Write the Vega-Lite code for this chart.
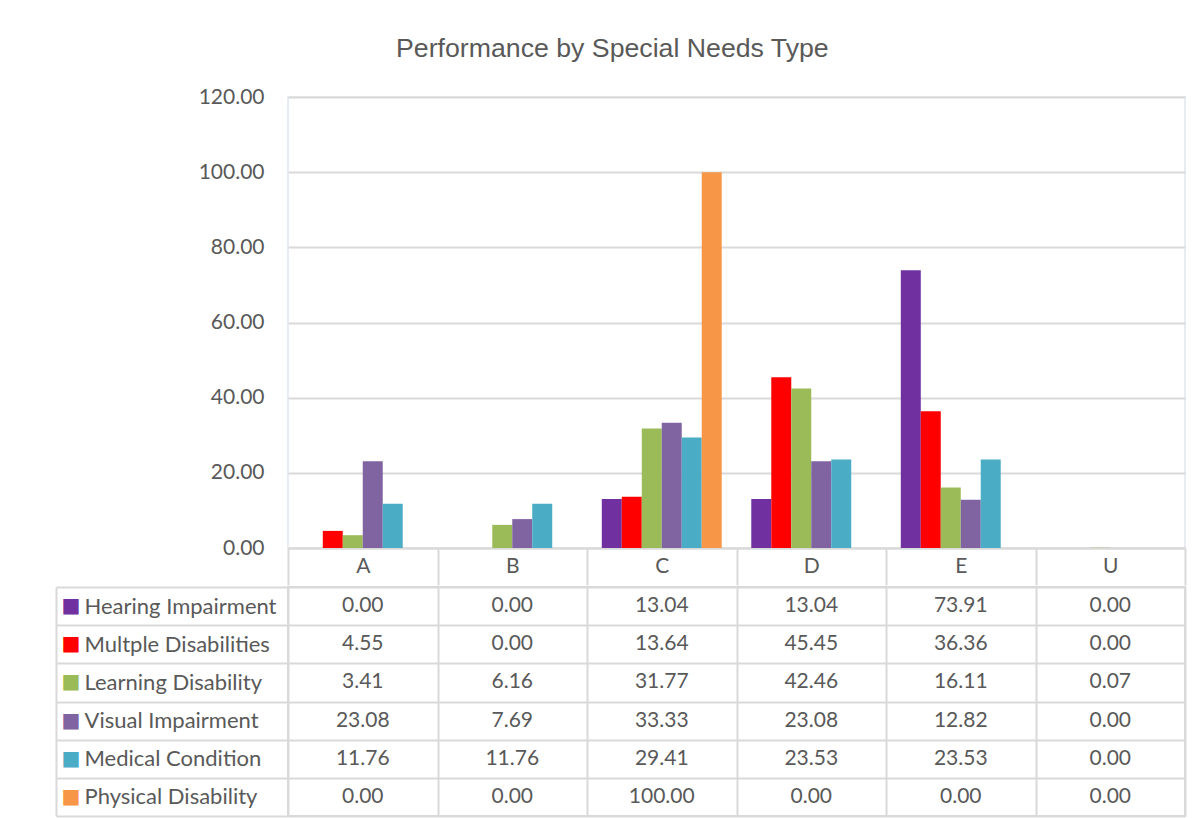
{
  "$schema": "https://vega.github.io/schema/vega-lite/v6.json",
  "background": "white",
  "padding": {"left": 54, "top": 35, "right": 10, "bottom": 0},
  "title": {"text": "Performance by Special Needs Type", "font": "Liberation Sans", "fontSize": 26.7, "fontWeight": "normal", "color": "#595959", "anchor": "middle", "dx": -8, "offset": 23},
  "spacing": -14,
  "data": {"values": [
    {"cat": "A", "series": "Hearing Impairment", "value": 0.00},
    {"cat": "B", "series": "Hearing Impairment", "value": 0.00},
    {"cat": "C", "series": "Hearing Impairment", "value": 13.04},
    {"cat": "D", "series": "Hearing Impairment", "value": 13.04},
    {"cat": "E", "series": "Hearing Impairment", "value": 73.91},
    {"cat": "U", "series": "Hearing Impairment", "value": 0.00},
    {"cat": "A", "series": "Multple Disabilities", "value": 4.55},
    {"cat": "B", "series": "Multple Disabilities", "value": 0.00},
    {"cat": "C", "series": "Multple Disabilities", "value": 13.64},
    {"cat": "D", "series": "Multple Disabilities", "value": 45.45},
    {"cat": "E", "series": "Multple Disabilities", "value": 36.36},
    {"cat": "U", "series": "Multple Disabilities", "value": 0.00},
    {"cat": "A", "series": "Learning Disability", "value": 3.41},
    {"cat": "B", "series": "Learning Disability", "value": 6.16},
    {"cat": "C", "series": "Learning Disability", "value": 31.77},
    {"cat": "D", "series": "Learning Disability", "value": 42.46},
    {"cat": "E", "series": "Learning Disability", "value": 16.11},
    {"cat": "U", "series": "Learning Disability", "value": 0.07},
    {"cat": "A", "series": "Visual Impairment", "value": 23.08},
    {"cat": "B", "series": "Visual Impairment", "value": 7.69},
    {"cat": "C", "series": "Visual Impairment", "value": 33.33},
    {"cat": "D", "series": "Visual Impairment", "value": 23.08},
    {"cat": "E", "series": "Visual Impairment", "value": 12.82},
    {"cat": "U", "series": "Visual Impairment", "value": 0.00},
    {"cat": "A", "series": "Medical Condition", "value": 11.76},
    {"cat": "B", "series": "Medical Condition", "value": 11.76},
    {"cat": "C", "series": "Medical Condition", "value": 29.41},
    {"cat": "D", "series": "Medical Condition", "value": 23.53},
    {"cat": "E", "series": "Medical Condition", "value": 23.53},
    {"cat": "U", "series": "Medical Condition", "value": 0.00},
    {"cat": "A", "series": "Physical Disability", "value": 0.00},
    {"cat": "B", "series": "Physical Disability", "value": 0.00},
    {"cat": "C", "series": "Physical Disability", "value": 100.00},
    {"cat": "D", "series": "Physical Disability", "value": 0.00},
    {"cat": "E", "series": "Physical Disability", "value": 0.00},
    {"cat": "U", "series": "Physical Disability", "value": 0.00}
  ]},
  "config": {"font": "Lato", "axis": {"labelFont": "Lato", "labelColor": "#595959", "labelFontSize": 21}},
  "vconcat": [
    {
      "width": 897,
      "height": 451,
      "view": {"stroke": "#e1e7f0", "strokeWidth": 1.5},
      "mark": {"type": "bar"},
      "encoding": {
        "x": {"field": "cat", "type": "nominal",
          "scale": {"domain": ["A", "B", "C", "D", "E", "U"], "paddingInner": 0, "paddingOuter": 0},
          "axis": {"title": null, "labelAngle": 0, "domainColor": "#d9d9d9", "domainWidth": 2, "tickColor": "#d9d9d9", "tickWidth": 2, "tickSize": 37, "tickBand": "extent", "labelBaseline": "middle", "labelPadding": -18.5}},
        "xOffset": {"field": "series", "type": "nominal",
          "scale": {"domain": ["Hearing Impairment", "Multple Disabilities", "Learning Disability", "Visual Impairment", "Medical Condition", "Physical Disability"], "paddingInner": 0, "paddingOuter": 0.74}},
        "y": {"field": "value", "type": "quantitative",
          "scale": {"domain": [0, 120]},
          "axis": {"title": null, "values": [0, 20, 40, 60, 80, 100, 120], "format": ".2f", "domain": false, "ticks": false, "tickSize": 0, "labelPadding": 24, "gridColor": "#d9d9d9", "gridWidth": 2}},
        "color": {"field": "series", "type": "nominal",
          "scale": {"domain": ["Hearing Impairment", "Multple Disabilities", "Learning Disability", "Visual Impairment", "Medical Condition", "Physical Disability"],
                    "range": ["#7030A0", "#FF0000", "#9BBB59", "#8064A2", "#4BACC6", "#F79646"]},
          "legend": null}
      }
    },
    {
      "width": 897,
      "height": 229,
      "view": {"stroke": "#d9d9d9", "strokeWidth": 2},
      "layer": [
        {
          "mark": {"type": "text", "font": "Lato", "fontSize": 21, "color": "#595959"},
          "encoding": {
            "x": {"field": "cat", "type": "nominal",
              "scale": {"domain": ["A", "B", "C", "D", "E", "U"], "paddingInner": 0, "paddingOuter": 0},
              "axis": {"title": null, "labels": false, "ticks": false, "domain": false, "grid": true, "gridColor": "#d9d9d9", "gridWidth": 2, "tickBand": "extent"}},
            "y": {"field": "series", "type": "nominal",
              "scale": {"domain": ["Hearing Impairment", "Multple Disabilities", "Learning Disability", "Visual Impairment", "Medical Condition", "Physical Disability"], "paddingInner": 0, "paddingOuter": 0},
              "axis": {"title": null, "orient": "left", "domain": false, "ticks": true, "tickSize": 232, "tickColor": "#d9d9d9", "tickWidth": 2, "tickBand": "extent", "grid": true, "gridColor": "#d9d9d9", "gridWidth": 2, "labelAlign": "left", "labelPadding": -28, "labelFontSize": 22, "labelBaseline": "middle", "labelLimit": 0}},
            "text": {"field": "value", "type": "quantitative", "format": ".2f"}
          }
        },
        {
          "mark": {"type": "text", "text": ""},
          "encoding": {
            "y": {"field": "series", "type": "nominal",
              "axis": {"title": null, "orient": "left", "offset": 232, "domain": true, "domainColor": "#d9d9d9", "domainWidth": 2, "ticks": false, "tickSize": 0, "grid": false,
                "labelExpr": "'■'", "labelFont": "DejaVu Sans", "labelFontSize": 20, "labelAlign": "left", "labelBaseline": "middle", "labelPadding": -5,
                "labelColor": {"expr": "datum.value === 'Hearing Impairment' ? '#7030A0' : datum.value === 'Multple Disabilities' ? '#FF0000' : datum.value === 'Learning Disability' ? '#9BBB59' : datum.value === 'Visual Impairment' ? '#8064A2' : datum.value === 'Medical Condition' ? '#4BACC6' : '#F79646'"}}}
          }
        }
      ],
      "resolve": {"axis": {"y": "independent"}}
    }
  ]
}
